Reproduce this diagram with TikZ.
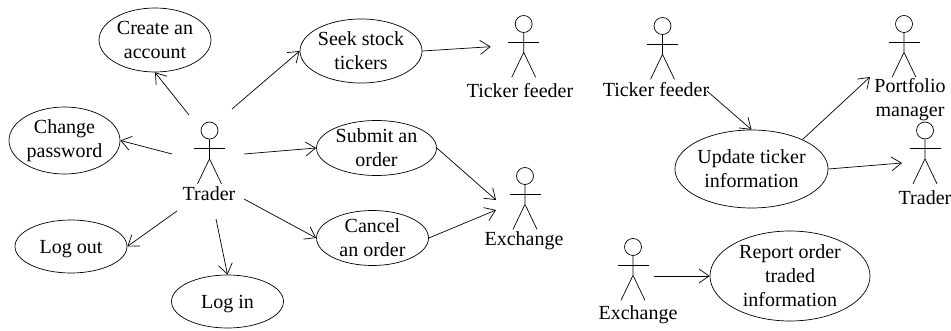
\documentclass[tikz,border=0pt]{standalone}
\usepackage{fontspec}
\setmainfont{Liberation Serif}
\usetikzlibrary{shapes.geometric, arrows.meta, calc}

\tikzset{
  usecase/.style={ellipse, draw, inner sep=0pt, align=center},
  actorhead/.style={circle, draw, inner sep=0pt, minimum size=17pt},
  actorname/.style={inner sep=0pt, align=center},
  assoc/.style={-{Straight Barb[length=10pt,width=14pt,line width=0.7pt]}},
}

% head at #2, name #1
\newcommand{\actor}[2]{
  \node[actorhead] (#1) at (#2) {};
  \draw (#1.south) -- ++(0,19.5) -- ++(-12,25) ++(12,-25) -- ++(12,25);
  \draw ($(#1)+(-15.5,18)$) -- ++(31,0);
}

\begin{document}
\begin{tikzpicture}[x=1pt, y=-1pt, line width=0.7pt, font=\fontsize{20}{24}\selectfont]
  \useasboundingbox (0,0) rectangle (951,331);

  % trading use cases
  \node[usecase, minimum width=112pt, minimum height=64pt] (create) at (155,40) {Create an\\account};
  \node[usecase, minimum width=111pt, minimum height=67pt] (change) at (64.5,140.5) {Change\\password};
  \node[usecase, minimum width=112pt, minimum height=53pt, text depth=0pt] (logout) at (71,246.5) {Log out};
  \node[usecase, minimum width=112pt, minimum height=53pt, text depth=0pt] (login) at (227.5,301.5) {Log in};
  \node[usecase, minimum width=122pt, minimum height=64pt] (seek) at (361,51) {Seek stock\\tickers};
  \node[usecase, minimum width=120pt, minimum height=55pt] (submit) at (376.5,148) {Submit an\\order};
  \node[usecase, minimum width=112pt, minimum height=55pt] (cancel) at (372.5,238) {Cancel\\an order};

  % back office use cases
  \node[usecase, minimum width=143pt, minimum height=78pt] (update) at (751.5,169) {Update ticker\\information};
  \node[usecase, minimum width=160pt, minimum height=90pt] (report) at (790,276) {Report order\\traded\\information};

  % actors
  \actor{trader}{209.5,130.5}
  \node[actorname] (tradername) at (209,194) {Trader};
  \actor{feeder}{523.7,24}
  \node[actorname] (feedername) at (520,91) {Ticker feeder};
  \actor{exchange}{525,176}
  \node[actorname] (exchangename) at (524,241) {Exchange};
  \actor{feederb}{662.5,26}
  \node[actorname] (feederbname) at (656,90) {Ticker feeder};
  \actor{manager}{904,24}
  \node[actorname] (managername) at (910,100) {Portfolio\\manager};
  \actor{traderb}{925,130.5}
  \node[actorname] (traderbname) at (925,198) {Trader};
  \actor{exchangeb}{633,247}
  \node[actorname] (exchangebname) at (638,315) {Exchange};

  % free ends next to the actors
  \coordinate (tradernw) at (189,115);
  \coordinate (traderw) at (172,154);
  \coordinate (tradersw) at (177,211);
  \coordinate (traders) at (216,219);
  \coordinate (traderne) at (232,109);
  \coordinate (tradere) at (244,154);
  \coordinate (traderse) at (244,199);
  \coordinate (feederin) at (490.7,46.7);
  \coordinate (exchangeina) at (496,200);
  \coordinate (exchangeinb) at (496,210);
  \coordinate (feederbout) at (707,91);
  \coordinate (managerin) at (870,77);
  \coordinate (traderbin) at (902,163);
  \coordinate (exchangebout) at (654,276);

  \draw[assoc] (tradernw) -- (create.south);
  \draw[assoc] (traderw) -- (change.east);
  \draw[assoc] (tradersw) -- (logout.east);
  \draw[assoc] (traders) -- (login.north);
  \draw[assoc] (traderne) -- (seek.west);
  \draw[assoc] (tradere) -- (submit.west);
  \draw[assoc] (traderse) -- (cancel.west);
  \draw[assoc] (seek.east) -- (feederin);
  \draw[assoc] (submit.east) -- (exchangeina);
  \draw[assoc] (cancel.east) -- (exchangeinb);
  \draw[assoc] (feederbout) -- (update.north);
  \draw[assoc] (update.30) -- (managerin);
  \draw[assoc] (update.east) -- (traderbin);
  \draw[assoc] (exchangebout) -- (report.west);
\end{tikzpicture}
\end{document}
